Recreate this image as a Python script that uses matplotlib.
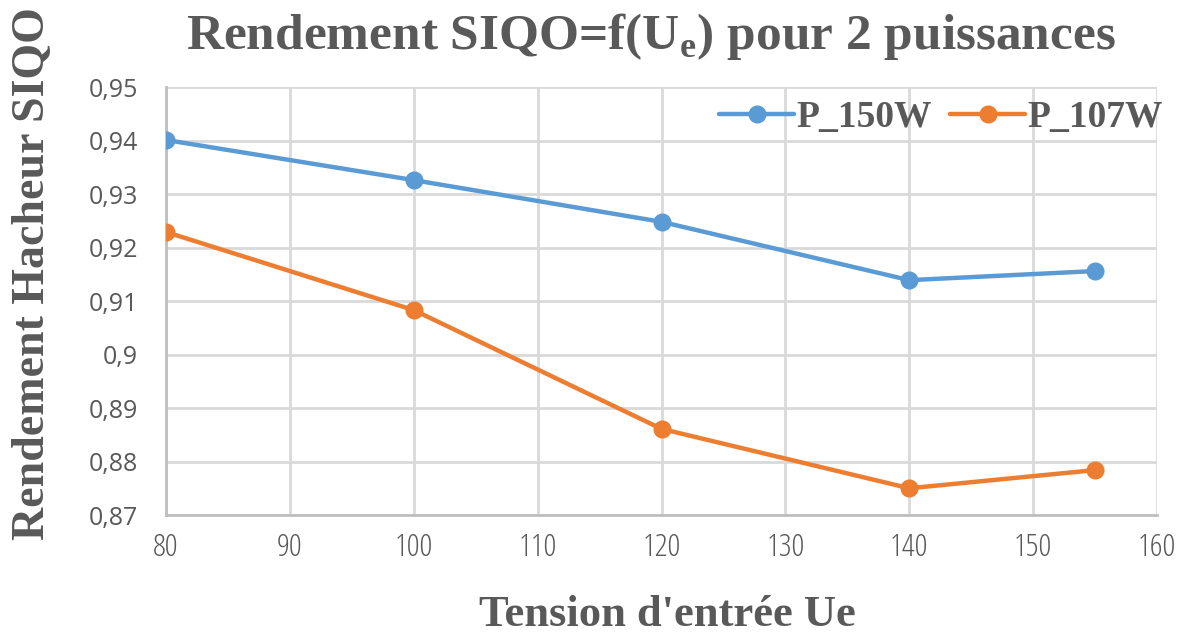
import matplotlib
matplotlib.use("Agg")
import matplotlib.pyplot as plt
from matplotlib.ticker import FuncFormatter, MultipleLocator

tension = [80, 100, 120, 140, 155]
p150 = [0.9401, 0.9326, 0.9248, 0.9139, 0.9156]
p107 = [0.9229, 0.9083, 0.8861, 0.8750, 0.8784]
labels = ["P_150W", "P_107W"]
colors = ["#5B9BD5", "#ED7D31"]

fig = plt.figure(figsize=(11.82, 6.37), dpi=100)
ax = fig.add_axes([0.1404, 0.1915, 0.8385, 0.6719])

for vals, lab, col in zip([p150, p107], labels, colors):
    ax.plot(tension, vals, color=col, lw=3.2, marker="o", ms=12, label=lab,
            solid_capstyle="round", zorder=3)

ax.set_xlim(80, 160)
ax.set_ylim(0.87, 0.95)
ax.xaxis.set_major_locator(MultipleLocator(10))
ax.yaxis.set_major_locator(MultipleLocator(0.01))
ax.yaxis.set_major_formatter(FuncFormatter(lambda v, p: ("%g" % round(v, 2)).replace(".", ",")))
ax.grid(True, color="#D9D9D9", lw=2)
ax.set_axisbelow(True)
for s in ["top", "right"]:
    ax.spines[s].set_visible(False)
for s in ["left", "bottom"]:
    ax.spines[s].set_color("#BFBFBF")
    ax.spines[s].set_linewidth(2)
ax.tick_params(axis="y", length=0, pad=20, colors="#595959")
ax.tick_params(axis="x", length=0, pad=12, colors="#595959")
for t in ax.get_yticklabels():
    t.set_fontfamily("Open Sans")
    t.set_fontsize(18)
for t in ax.get_xticklabels():
    t.set_fontfamily("Open Sans")
    t.set_fontstretch("condensed")
    t.set_fontsize(23)
    t.set_color("#595959")

serif = "Liberation Serif"
fig.text(0.551, 0.943, r"Rendement SIQO=f(U$_\mathregular{e}$) pour 2 puissances",
         ha="center", va="center", fontsize=37, fontweight="bold",
         family=serif, color="#595959")
fig.text(0.028, 0.57, "Rendement Hacheur SIQO", rotation=90, ha="center", va="center",
         fontsize=33, fontweight="bold", family=serif, color="#595959")
fig.text(0.565, 0.035, "Tension d'entrée Ue", ha="center", va="center",
         fontsize=32, fontweight="bold", family=serif, color="#595959")

leg = ax.legend(loc="upper right", bbox_to_anchor=(1.032, 1.03), ncol=2, frameon=False,
                prop={"family": serif, "weight": "bold", "size": 27},
                handlelength=2.0, handletextpad=0.05, columnspacing=0.5,
                borderaxespad=0.3)
for t in leg.get_texts():
    t.set_color("#595959")

fig.savefig("out.png", dpi=100)
